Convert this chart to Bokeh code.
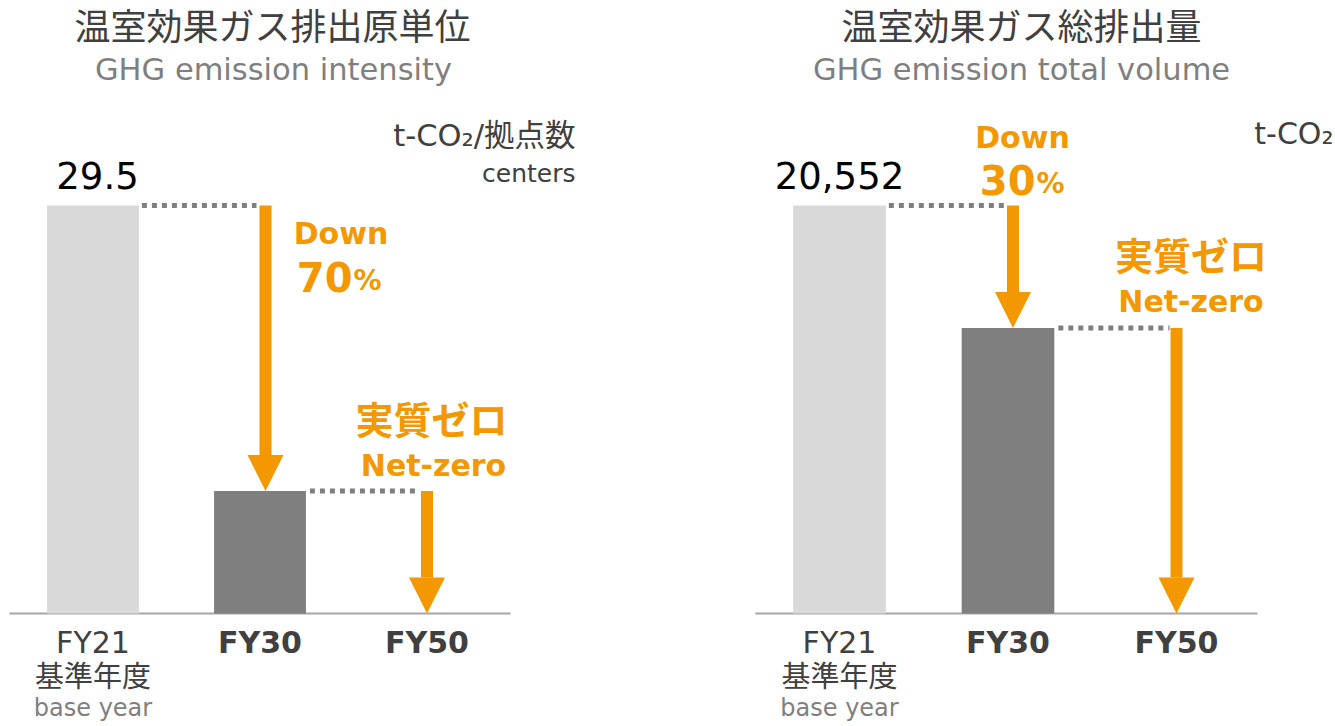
from bokeh.plotting import figure
from bokeh.models import Range1d, Label, Arrow, NormalHead
from bokeh.layouts import row
from bokeh.embed import file_html
from bokeh.resources import INLINE
from bokeh.core.properties import value

# ---------------- data ----------------
categories = ["FY21", "FY30", "FY50"]
category_styles = ["normal", "bold", "bold"]
base_year_jp = "基準年度"
base_year_en = "base year"

intensity = [29.5, 8.85, 0.0]          # t-CO2 / centers
intensity_base_label = "29.5"
total = [20552, 14386, 0.0]            # t-CO2
total_base_label = "20,552"

titles_jp = ["温室効果ガス排出原単位", "温室効果ガス総排出量"]
titles_en = ["GHG emission intensity", "GHG emission total volume"]
units_intensity = ["t-CO₂/拠点数", "centers"]
units_total = ["t-CO₂"]
down_word = "Down"
reduction_pct = ["70", "30"]
net_zero_jp = "実質ゼロ"
net_zero_en = "Net-zero"

bar_colors = ["#D9D9D9", "#7F7F7F", "#7F7F7F"]

# ---------------- style ----------------
H = 726
BASE_Y = 613
TOP_Y = 205
ORANGE = "#F39800"
DARK = "#404040"
GREY = "#7F7F7F"
LAT = "DejaVu Sans"
MIX = "DejaVu Sans, Noto Sans CJK JP"


def make_panel(vals, width, ox, c0, step):
    ppu = (BASE_Y - TOP_Y) / vals[0]
    below = H - BASE_Y
    xs0 = -(c0 - ox) / step
    p = figure(width=width, height=H, output_backend="svg", toolbar_location=None,
               x_range=Range1d(xs0, xs0 + width / step),
               y_range=Range1d(-below / ppu, (H - below) / ppu),
               x_axis_location=None, y_axis_location=None,
               min_border=0, outline_line_color=None, background_fill_color="white")
    p.grid.visible = False
    return p


def lab(p, ox, text, X, Y, size, color, font=MIX, style="normal", align="center"):
    p.add_layout(Label(x=X - ox, y=H - Y, x_units="screen", y_units="screen", text=text,
                       text_font=font, text_font_size=size, text_font_style=style,
                       text_color=color, text_align=align, text_baseline="middle"))


def draw_common(p, vals, step, base_label, label_dx, arrow_dx, base_x1):
    idx = list(range(len(categories)))
    # baseline
    p.segment(x0=[-0.5], x1=[base_x1], y0=[0], y1=[0], line_color="#A6A6A6", line_width=2)
    # bars
    p.vbar(x=idx, top=vals, width=0.55, fill_color=bar_colors, line_color=None)
    # dotted connectors
    p.segment(x0=[0 + 0.275 + 3 / step, 1 + 0.275 + 4 / step],
              x1=[1 + arrow_dx - 9 / step, 2 - 7 / step],
              y0=[vals[0], vals[1]], y1=[vals[0], vals[1]],
              line_color="#7F7F7F", line_width=5, line_dash="5 5")
    # arrows
    p.add_layout(Arrow(x_start=1 + arrow_dx, y_start=vals[0], x_end=1 + arrow_dx, y_end=vals[1],
                       line_color=ORANGE, line_width=12,
                       end=NormalHead(size=36, fill_color=ORANGE, line_color=None)))
    p.add_layout(Arrow(x_start=2, y_start=vals[1], x_end=2, y_end=0,
                       line_color=ORANGE, line_width=12,
                       end=NormalHead(size=36, fill_color=ORANGE, line_color=None)))
    # base value label
    p.text(x=[0], y=[vals[0]], text=[base_label], text_font=value(LAT), text_font_size=value("37px"),
           text_color="#000000", text_align="center", text_baseline="middle",
           y_offset=-30, x_offset=label_dx)
    # category labels
    p.text(x=idx, y=[0] * 3, text=categories, text_font=value(LAT), text_font_size=value("30px"),
           text_font_style=category_styles, text_color=DARK, text_align="center",
           text_baseline="middle", y_offset=28.5)
    p.text(x=[0], y=[0], text=[base_year_jp], text_font=value(MIX), text_font_size=value("29px"),
           text_color=DARK, text_align="center", text_baseline="middle", y_offset=63.5)
    p.text(x=[0], y=[0], text=[base_year_en], text_font=value(LAT), text_font_size=value("24px"),
           text_color=GREY, text_align="center", text_baseline="middle", y_offset=94)


# ---------------- left panel ----------------
OX1, W1 = 0, 700
p1 = make_panel(intensity, W1, OX1, 92.5, 167.0)
draw_common(p1, intensity, 167.0, intensity_base_label, 4.5, 5.5 / 167.0, 2.5)
lab(p1, OX1, titles_jp[0], 272, 27, "36px", DARK)
lab(p1, OX1, titles_en[0], 273, 69, "30.5px", GREY, LAT)
lab(p1, OX1, units_intensity[0], 575, 135, "30.5px", DARK, align="right")
lab(p1, OX1, units_intensity[1], 575, 173, "25px", DARK, LAT, align="right")
lab(p1, OX1, down_word, 340.5, 232.5, "30px", ORANGE, LAT, style="bold")
lab(p1, OX1, reduction_pct[0], 352, 276, "40px", ORANGE, LAT, style="bold", align="right")
lab(p1, OX1, "%", 353, 280, "28px", ORANGE, LAT, style="bold", align="left")
lab(p1, OX1, net_zero_jp, 431, 420, "38px", ORANGE, style="bold")
lab(p1, OX1, net_zero_en, 433, 464.5, "30px", ORANGE, LAT, style="bold")

# ---------------- right panel ----------------
OX2, W2 = 700, 635
p2 = make_panel(total, W2, OX2, 839.0, 168.5)
draw_common(p2, total, 168.5, total_base_label, 0, 5.0 / 168.5, 2.48)
lab(p2, OX2, titles_jp[1], 1021, 27, "36px", DARK)
lab(p2, OX2, titles_en[1], 1021, 69, "30.5px", GREY, LAT)
lab(p2, OX2, units_total[0], 1333, 133, "30px", DARK, align="right")
lab(p2, OX2, down_word, 1022, 136.5, "30px", ORANGE, LAT, style="bold")
lab(p2, OX2, reduction_pct[1], 1035, 179, "40px", ORANGE, LAT, style="bold", align="right")
lab(p2, OX2, "%", 1036, 183, "28px", ORANGE, LAT, style="bold", align="left")
lab(p2, OX2, net_zero_jp, 1190.5, 256, "38px", ORANGE, style="bold")
lab(p2, OX2, net_zero_en, 1190.5, 300.5, "30px", ORANGE, LAT, style="bold")

layout = row(p1, p2)
open("out.html", "w").write(file_html(layout, INLINE))
